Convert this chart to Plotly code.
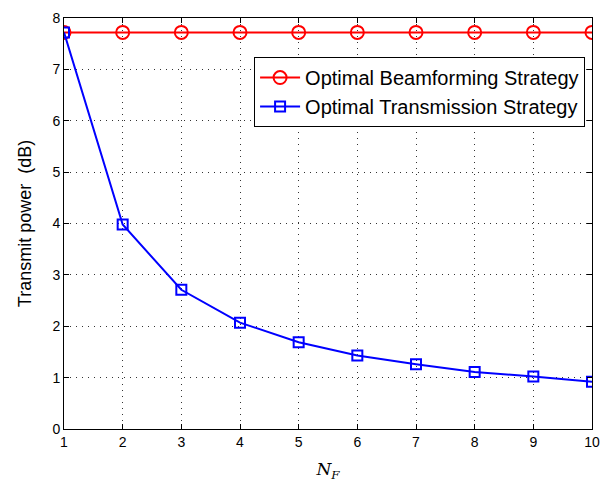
import plotly.graph_objects as go

nf = [1, 2, 3, 4, 5, 6, 7, 8, 9, 10]
beamforming = [7.72, 7.72, 7.72, 7.72, 7.72, 7.72, 7.72, 7.72, 7.72, 7.72]
transmission = [7.72, 3.98, 2.71, 2.07, 1.69, 1.43, 1.26, 1.11, 1.02, 0.92]

fig = go.Figure()
fig.add_trace(go.Scatter(
    x=nf, y=beamforming, mode="lines+markers",
    name="Optimal Beamforming Strategy",
    line=dict(color="#ff0000", width=2),
    marker=dict(symbol="circle-open", size=13, color="#ff0000", line=dict(width=2)),
))
fig.add_trace(go.Scatter(
    x=nf, y=transmission, mode="lines+markers",
    name="Optimal Transmission Strategy",
    line=dict(color="#0000ff", width=2),
    marker=dict(symbol="square-open", size=10, color="#0000ff", line=dict(width=2)),
))

axis_common = dict(
    showline=True, linecolor="black", linewidth=1, mirror="allticks",
    ticks="inside", ticklen=5, tickcolor="black",
    showgrid=True, gridcolor="rgba(0,0,0,0.8)", griddash="1px,5px", gridwidth=1,
    zeroline=False,
    tickfont=dict(family="Liberation Sans, Arial", size=14, color="black"),
)

fig.update_layout(
    width=610, height=486,
    margin=dict(l=64, r=13, t=10, b=56),
    paper_bgcolor="white", plot_bgcolor="white",
    xaxis=dict(range=[1, 10], dtick=1,
               title=dict(text="<i>N</i><sub><i>F</i></sub>",
                          font=dict(family="DejaVu Serif, serif", size=17, color="black"),
                          standoff=14),
               **axis_common),
    yaxis=dict(range=[0, 8], dtick=1,
               title=dict(text="Transmit power  (dB)",
                          font=dict(family="Liberation Sans, Arial", size=18, color="black"),
                          standoff=16),
               **axis_common),
    legend=dict(x=0.36, y=0.905, xanchor="left", yanchor="top",
                bordercolor="black", borderwidth=1, bgcolor="white",
                font=dict(family="Liberation Sans, Arial", size=20, color="black"),
                tracegroupgap=0, itemwidth=40),
    showlegend=True,
)

fig.write_html(
    "out.html",
    config={"displayModeBar": False},
    post_script="document.body.style.margin='0';document.body.style.overflow='hidden';",
)
